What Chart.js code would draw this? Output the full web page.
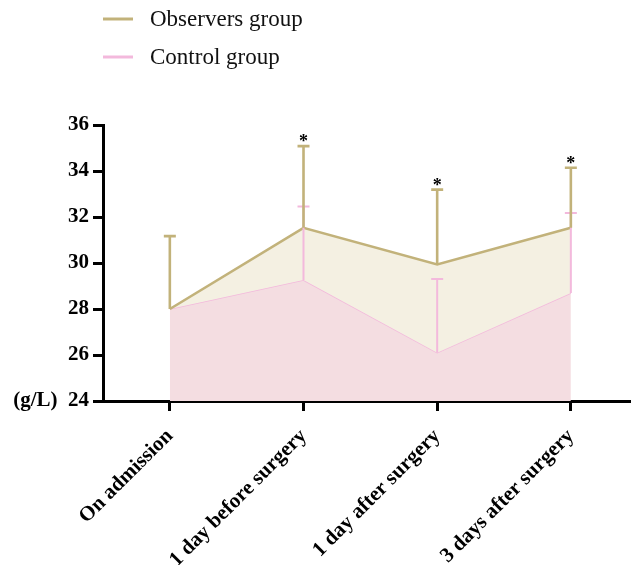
<!DOCTYPE html>
<html>
<head>
<meta charset="utf-8">
<script src="https://cdn.jsdelivr.net/npm/chart.js@4/dist/chart.umd.min.js"></script>
<style>
  html, body { margin: 0; padding: 0; background: #ffffff; }
  #wrap { width: 631px; height: 565px; }
</style>
</head>
<body>
<div id="wrap"><canvas id="c" width="631" height="565"></canvas></div>
<script>
// Serum albumin (g/L), mean with upper SD bar
const categories = ['On admission', '1 day before surgery', '1 day after surgery', '3 days after surgery'];
const observersMean = [28.0, 31.53, 29.94, 31.53];
const observersSD   = [3.17, 3.55, 3.25, 2.61];
const controlMean   = [28.0, 29.26, 26.1, 28.7];
const controlSD     = [null, 3.2, 3.2, 3.47];
const significance  = ['', '*', '*', '*'];
const yTicks = [24, 26, 28, 30, 32, 34, 36];
const unitLabel = '(g/L)';

const olive = '#c2b27a';
const cream = '#f4f0e2';
const pink = '#f3b9dc';
const blush = '#f4dde1';
const serif = 'Liberation Serif';

const toPoints = arr => arr.map((v, i) => ({ x: i, y: v }));

// Upper error bars plus significance stars
const errorBars = {
  id: 'errorBars',
  afterDatasetsDraw(chart) {
    const ctx = chart.ctx;
    const xs = chart.scales.x, ys = chart.scales.y;
    // control bars first, observers on top
    [1, 0].forEach(di => {
      const ds = chart.data.datasets[di];
      ds.err.forEach((sd, i) => {
        if (sd == null) return;
        const m = ds.data[i].y;
        const x = xs.getPixelForValue(i);
        const y0 = ys.getPixelForValue(m);
        const y1 = ys.getPixelForValue(m + sd);
        ctx.save();
        ctx.strokeStyle = ds.borderColor;
        ctx.lineWidth = ds.errWidth;
        ctx.beginPath();
        ctx.moveTo(x, y0);
        ctx.lineTo(x, y1);
        ctx.moveTo(x - 6, y1);
        ctx.lineTo(x + 6, y1);
        ctx.stroke();
        if (ds.marks && ds.marks[i]) {
          ctx.fillStyle = '#000';
          ctx.font = 'bold 18px "' + serif + '"';
          ctx.textAlign = 'center';
          ctx.textBaseline = 'alphabetic';
          ctx.fillText(ds.marks[i], x, y1 + 1);
        }
        ctx.restore();
      });
    });
  }
};

// Stacked legend in the top-left corner
const sideLegend = {
  id: 'sideLegend',
  afterDraw(chart) {
    const ctx = chart.ctx;
    chart.data.datasets.forEach((ds, i) => {
      const y = 19 + i * 38;
      ctx.save();
      ctx.strokeStyle = ds.borderColor;
      ctx.lineWidth = 3;
      ctx.beginPath();
      ctx.moveTo(103, y);
      ctx.lineTo(133, y);
      ctx.stroke();
      ctx.fillStyle = '#111';
      ctx.font = '23px "' + serif + '"';
      ctx.textAlign = 'left';
      ctx.textBaseline = 'middle';
      ctx.fillText(ds.label, 150, y + 1);
      ctx.restore();
    });
  }
};

new Chart(document.getElementById('c'), {
  type: 'line',
  data: {
    datasets: [
      {
        label: 'Observers group',
        data: toPoints(observersMean),
        err: observersSD,
        marks: significance,
        errWidth: 2.6,
        borderColor: olive,
        backgroundColor: cream,
        borderWidth: 2.6,
        fill: { target: 1 },
        pointRadius: 0,
        tension: 0
      },
      {
        label: 'Control group',
        data: toPoints(controlMean),
        err: controlSD,
        errWidth: 2,
        borderColor: pink,
        backgroundColor: blush,
        borderWidth: 1.6,
        fill: 'origin',
        pointRadius: 0,
        tension: 0
      }
    ]
  },
  options: {
    responsive: false,
    animation: false,
    layout: { padding: { top: 125, left: 0, right: 0, bottom: 0 } },
    plugins: { legend: { display: false }, tooltip: { enabled: false } },
    scales: {
      x: {
        type: 'linear',
        min: -0.5,
        max: 3.45,
        afterBuildTicks: s => { s.ticks = categories.map((_, i) => ({ value: i })); },
        afterFit: s => { s.height = 164; },
        border: { display: true, color: '#000', width: 3 },
        grid: { display: true, drawOnChartArea: false, color: '#000', tickLength: 10, tickWidth: 3 },
        ticks: {
          callback: v => categories[v],
          minRotation: 45,
          maxRotation: 45,
          padding: 13,
          color: '#000',
          font: { family: serif, size: 21, weight: 'bold' }
        }
      },
      y: {
        min: 24,
        max: 36,
        afterBuildTicks: s => { s.ticks = yTicks.map(v => ({ value: v })); },
        afterFit: s => { s.width = 103; },
        border: { display: true, color: '#000', width: 3 },
        grid: { display: true, drawOnChartArea: false, color: '#000', tickLength: 10, tickWidth: 3 },
        ticks: {
          callback: v => (v === yTicks[0] ? unitLabel + '  ' + v : String(v)),
          padding: 4,
          color: '#000',
          font: { family: serif, size: 21, weight: 'bold' }
        }
      }
    }
  },
  plugins: [errorBars, sideLegend]
});
</script>
</body>
</html>
